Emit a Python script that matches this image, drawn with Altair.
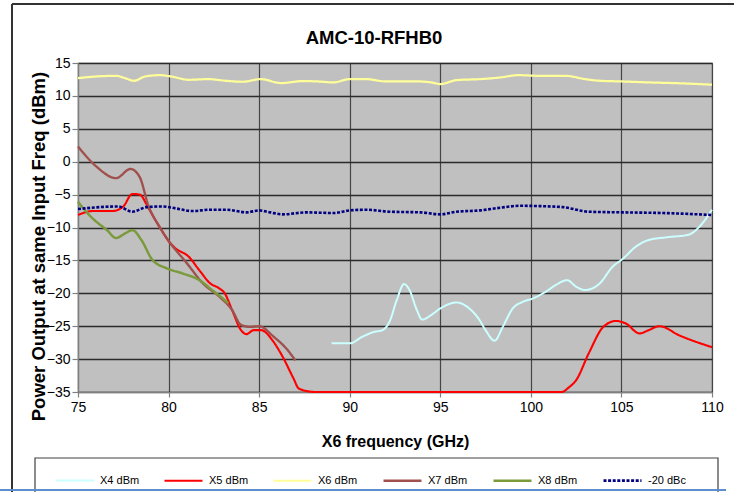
import altair as alt
import pandas as pd

FONT = "Liberation Sans, Arial, sans-serif"

chart_title = "AMC-10-RFHB0"
series_names = ["X4 dBm", "X5 dBm", "X6 dBm", "X7 dBm", "X8 dBm", "-20 dBc"]
series_colors = ["#CCFFFF", "#FF0000", "#FFFF99", "#A0504D", "#7A9A3C", "#000080"]

x4_freq = [89.0, 90.0, 90.7, 91.3, 91.8, 92.2, 92.6, 93.0, 93.3, 93.7, 94.0, 94.5, 95.0, 95.9, 96.6,
           97.15, 97.5, 98.0, 98.45, 99.0, 99.55, 100.1, 100.8, 101.4, 102.0, 102.5, 103.0, 103.8,
           104.5, 105.1, 105.8, 106.5, 107.45, 108.7, 109.3, 110.0]
x4_dbm = [-27.6, -27.6, -26.6, -25.9, -25.6, -24.3, -21.0, -18.6, -19.5, -22.5, -24.0, -23.3, -22.3,
          -21.4, -22.3, -24.0, -25.6, -27.2, -25.1, -22.3, -21.3, -20.8, -19.8, -18.7, -18.0, -19.0,
          -19.5, -18.5, -16.0, -14.7, -12.9, -11.9, -11.5, -11.1, -9.9, -7.3]

x5_freq = [75.0, 75.8, 76.9, 77.5, 78.0, 78.4, 78.9, 79.5, 80.1, 80.4, 81.1, 81.7, 82.3, 82.8, 83.1,
           83.5, 84.0, 84.3, 84.7, 85.1, 85.8, 86.3, 86.9, 87.2, 88.1, 90.0, 95.0, 100.0, 101.7,
           102.1, 102.5, 103.2, 104.0, 104.7, 105.25, 106.0, 106.5, 107.1, 108.2, 110.0]
x5_dbm = [-8.1, -7.5, -7.5, -6.8, -4.9, -5.0, -7.1, -9.9, -12.4, -13.2, -14.4, -16.5, -18.5, -19.25,
          -20.0, -22.5, -25.6, -26.2, -25.6, -25.6, -27.4, -29.65, -32.95, -34.5, -35.0, -35.0, -35.0,
          -35.0, -35.0, -34.3, -33.2, -29.1, -25.1, -24.2, -24.6, -26.1, -25.6, -25.0, -26.4, -28.2]

x6_freq = [75.0, 76.0, 77.1, 77.6, 78.1, 78.7, 79.5, 80.15, 81.1, 82.2, 83.15, 84.1, 85.1, 86.2, 87.4,
           88.2, 89.1, 90.0, 90.9, 92.0, 93.7, 94.5, 95.0, 95.9, 97.2, 98.3, 99.3, 100.5, 101.9,
           103.0, 103.8, 105.0, 106.5, 108.4, 110.0]
x6_dbm = [12.7, 12.95, 13.05, 12.7, 12.3, 12.95, 13.15, 12.95, 12.45, 12.55, 12.3, 12.15, 12.55, 11.95,
          12.25, 12.2, 12.05, 12.55, 12.55, 12.2, 12.2, 12.05, 11.8, 12.4, 12.55, 12.8, 13.15, 13.05,
          13.05, 12.55, 12.3, 12.2, 12.05, 11.9, 11.7]

x7_freq = [75.0, 76.0, 77.1, 77.9, 78.4, 78.9, 79.5, 80.1, 81.0, 81.9, 82.8, 83.5, 84.0, 84.5, 85.0,
           85.8, 86.5, 87.0]
x7_dbm = [2.3, -0.7, -2.5, -1.1, -2.3, -6.8, -9.9, -12.4, -15.4, -18.5, -20.5, -22.5, -24.8, -25.1,
          -25.0, -26.6, -28.4, -30.2]

x8_freq = [75.0, 75.8, 76.6, 77.1, 77.6, 78.0, 78.5, 79.1, 79.9, 80.8, 81.7, 82.4, 83.0, 83.3]
x8_dbm = [-6.1, -8.6, -10.4, -11.6, -10.9, -10.4, -11.9, -14.9, -16.2, -17.0, -18.0, -19.5, -20.8, -21.5]

dbc_freq = [75.0, 76.2, 77.2, 78.0, 78.8, 79.7, 80.4, 81.3, 82.3, 83.2, 84.3, 85.0, 85.6, 86.3, 87.6,
            89.1, 90.0, 90.9, 92.2, 93.9, 95.0, 95.9, 97.2, 98.3, 99.4, 100.5, 101.75, 103.2, 105.1,
            107.3, 110.0]
dbc_dbm = [-7.2, -6.9, -6.8, -7.6, -6.9, -6.8, -7.1, -7.5, -7.3, -7.3, -7.7, -7.4, -7.7, -8.0, -7.7,
           -7.8, -7.4, -7.3, -7.6, -7.7, -8.0, -7.6, -7.4, -7.0, -6.7, -6.75, -6.9, -7.6, -7.7, -7.8, -8.1]

x_ticks = [75, 80, 85, 90, 95, 100, 105, 110]
y_ticks = [-35, -30, -25, -20, -15, -10, -5, 0, 5, 10, 15]

rows = []
for name, xs, ys in zip(series_names,
                        [x4_freq, x5_freq, x6_freq, x7_freq, x8_freq, dbc_freq],
                        [x4_dbm, x5_dbm, x6_dbm, x7_dbm, x8_dbm, dbc_dbm]):
    for xv, yv in zip(xs, ys):
        rows.append({"series": name, "freq": xv, "dbm": yv})
df = pd.DataFrame(rows)

W, H = 634, 329

legend = alt.Legend(
    orient="none", legendX=-23, legendY=397, direction="horizontal", title=None,
    symbolType="stroke", symbolSize=1444, symbolStrokeWidth=2.5,
    labelFont=FONT, labelFontSize=11, labelColor="black", labelOffset=5,
    columnPadding=20, padding=0,
)

lines = alt.Chart(df).mark_line(interpolate="monotone").encode(
    x=alt.X("freq:Q", scale=alt.Scale(domain=[75, 110], nice=False, zero=False),
            axis=alt.Axis(values=x_ticks, title="X6 frequency (GHz)", labelFlush=False,
                          labelOverlap=False, tickSize=5, labelPadding=3,
                          titleY=49, titleBaseline="middle", titleFontSize=16,
                          gridColor="#454545", gridWidth=1.2)),
    y=alt.Y("dbm:Q", scale=alt.Scale(domain=[-35, 15], nice=False, zero=False),
            axis=alt.Axis(values=y_ticks, title="Power Output at same Input Freq (dBm)",
                          labelFlush=False, labelOverlap=False, tickSize=6, labelPadding=2,
                          titleX=-40, titleY=183, titleAlign="center", titleBaseline="middle",
                          titleFontSize=18.5, gridColor="#2a2a2a", gridWidth=1.4)),
    color=alt.Color("series:N", scale=alt.Scale(domain=series_names, range=series_colors),
                    legend=legend),
    strokeDash=alt.StrokeDash("series:N",
                              scale=alt.Scale(domain=series_names,
                                              range=[[1, 0], [1, 0], [1, 0], [1, 0], [1, 0], [3, 1.6]]),
                              legend=legend),
    strokeWidth=alt.StrokeWidth("series:N",
                                scale=alt.Scale(domain=series_names, range=[2, 2.6, 2.2, 2, 2, 2.6]),
                                legend=None),
)

frame_df = pd.DataFrame({"k": [0]})
title_text = alt.Chart(frame_df).mark_text(
    text=chart_title, font=FONT, fontSize=18.5, fontWeight="bold", color="black",
    align="center", baseline="middle").encode(x=alt.value(296), y=alt.value(-25))
legend_box = alt.Chart(frame_df).mark_rect(fill="white", stroke="#404040", strokeWidth=1.2).encode(
    x=alt.value(-43), x2=alt.value(640), y=alt.value(395), y2=alt.value(445))
top_rule = alt.Chart(frame_df).mark_rule(color="#333333", strokeWidth=2).encode(
    x=alt.value(-66), x2=alt.value(660), y=alt.value(-59))
left_rule = alt.Chart(frame_df).mark_rule(color="#333333", strokeWidth=2).encode(
    x=alt.value(-66), y=alt.value(-59), y2=alt.value(432))
bottom_rule = alt.Chart(frame_df).mark_rule(color="#5B8FD0", strokeWidth=2).encode(
    x=alt.value(-78), x2=alt.value(648), y=alt.value(427))

chart = alt.layer(legend_box, lines, title_text, top_rule, left_rule, bottom_rule).properties(
    width=W, height=H,
    autosize=alt.AutoSizeParams(type="none"),
    padding={"left": 78, "top": 63, "right": 22, "bottom": 100},
    background="white",
).configure_view(
    fill="#C0C0C0", stroke="#808080", strokeWidth=1.2,
).configure_axis(
    labelFont=FONT, labelFontSize=14, labelColor="black",
    titleFont=FONT, titleFontWeight="bold", titleColor="black",
    domainColor="#808080", domainWidth=1.2, tickColor="#808080", tickWidth=1.2,
    grid=True,
)

chart.save("out.html", embed_options={"renderer": "svg", "actions": False})
